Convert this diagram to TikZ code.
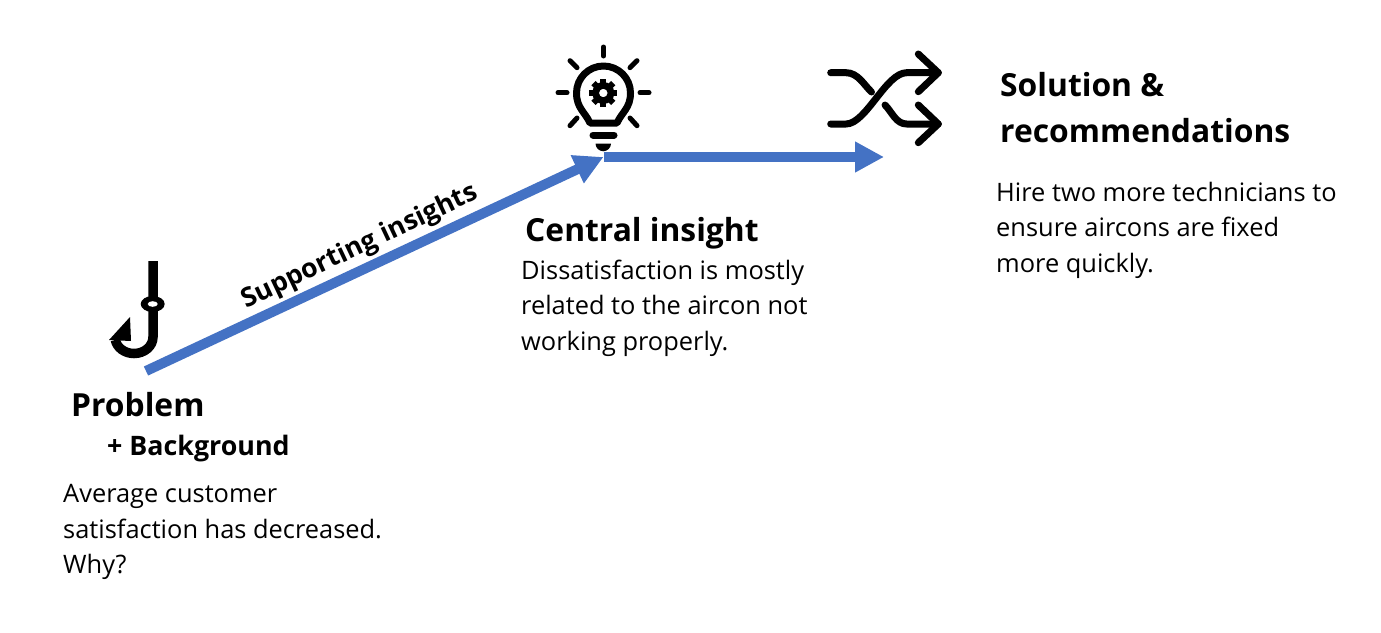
\documentclass[tikz,border=0pt]{standalone}
\usepackage{fontspec}
\setmainfont{Open Sans}
\usetikzlibrary{arrows.meta}
\tikzset{
  bluearrow/.style={draw=arrowblue, line width=10pt, -{Triangle[length=29pt,width=29pt]}},
  icon/.style={draw=black, line width=7pt, line cap=round, line join=round},
  heading/.style={anchor=base west, inner sep=0, font=\fontsize{31.8}{46}\selectfont\bfseries},
  subheading/.style={anchor=base west, inner sep=0, font=\fontsize{26.8}{35}\selectfont\bfseries},
  bodytext/.style={anchor=north west, inner sep=0, font=\fontsize{25.4}{35.3}\selectfont, align=left},
}
\definecolor{arrowblue}{RGB}{68,114,196}
\begin{document}
\begin{tikzpicture}[x=1pt,y=-1pt]
\useasboundingbox (0,0) rectangle (1381,632);
\coordinate (hookend) at (146,371);
\coordinate (bulbend) at (603.5,157);
\coordinate (shufend) at (884,157);
\draw[bluearrow] (hookend) -- (bulbend);
\draw[bluearrow] (bulbend) -- (shufend);
\node[rotate=25.3, inner sep=0, font=\fontsize{26.6}{30}\selectfont\bfseries] (support) at (360,247) {Supporting insights};
\node[heading] (problem) at (71,416) {Problem};
\node[subheading] (background) at (107,455) {+ Background};
\node[bodytext] (problemtext) at (63,484.5) {Average customer\\satisfaction has decreased.\\Why?};
\node[heading] (central) at (525,241) {Central insight};
\node[bodytext] (centraltext) at (521,260) {Dissatisfaction is mostly\\related to the aircon not\\working properly.};
\node[heading] (solution) at (1000,96) {Solution \&};
\node[heading] (recommend) at (1000,142) {recommendations};
\node[bodytext] (solutiontext) at (996,182) {Hire two more technicians to\\ensure aircons are fixed\\more quickly.};
% hook
\draw[line width=9.5pt] (153,261) -- (153,337) arc[start angle=0, end angle=170, x radius=19, y radius=16.5];
\fill (130,317) -- (109,340) -- (131,341) -- cycle;
\fill (152.7,304) ellipse[x radius=12, y radius=8];
\fill[white] (152.7,304) ellipse[x radius=5, y radius=2.8];
% bulb
\draw[icon] (590,123) .. controls (585,112) and (576.5,108) .. (576.5,93) arc[start angle=180, end angle=360, radius=27] .. controls (630.5,108) and (622,112) .. (617,123) -- cycle;
\draw[icon] (593,135) -- (614,135);
\fill (595.5,143.5) -- (611,143.5) arc[start angle=0, end angle=180, radius=7.75] -- cycle;
\foreach \a/\b/\c/\d in {603.5/47/603.5/56, 558/92.7/567/92.7, 640/92.7/649/92.7, 570/60.7/577/67.7, 637/60.7/630/67.7, 570/125.7/577/118, 637/125.7/630/118}
  \draw[line width=5pt, line cap=round] (\a,\b) -- (\c,\d);
\foreach \g in {0,45,...,315}
  \draw[line width=6pt] (603.3,93) ++(\g:8) -- ++(\g:6);
\fill[even odd rule] (603.3,93) circle[radius=11] (603.3,93) circle[radius=4.3];
% shuffle
\draw[icon] (830.7,72.7) -- (846,72.7) .. controls (858,72.7) and (864,85) .. (871.5,92);
\draw[icon] (830.7,124) -- (846,124) .. controls (866,124) and (886,72.7) .. (906.7,72.7) -- (938.3,72.7);
\draw[icon] (885,105) .. controls (892,112) and (896,124) .. (906.7,124) -- (938.3,124);
\draw[icon] (918.3,54) -- (938.3,72.7) -- (918.3,91.7);
\draw[icon] (918.3,105) -- (938.3,124) -- (918.3,142.7);
\end{tikzpicture}
\end{document}
